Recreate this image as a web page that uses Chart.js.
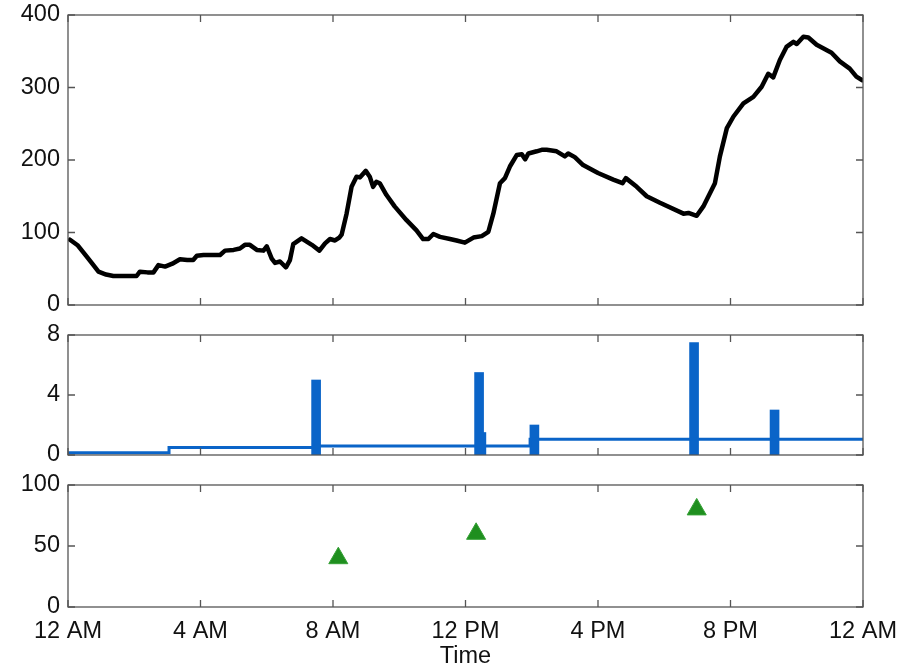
<!DOCTYPE html>
<html>
<head>
<meta charset="utf-8">
<script src="https://cdn.jsdelivr.net/npm/chart.js@4/dist/chart.umd.min.js"></script>
<style>
  body { margin:0; background:#fff; width:910px; height:668px; overflow:hidden; }
  canvas { position:absolute; left:0; }
</style>
</head>
<body>
<canvas id="glucose" width="910" height="320" style="top:0"></canvas>
<canvas id="insulin" width="910" height="150" style="top:320px"></canvas>
<canvas id="carbs" width="910" height="198" style="top:470px"></canvas>
<script>
// ---- data (hours since midnight) ----
const glucoseHours = [0.06,0.3,0.56,0.75,0.92,1.15,1.37,1.7,2.07,2.17,2.4,2.58,2.73,2.93,3.15,3.38,3.6,3.78,3.89,4.09,4.59,4.74,5.0,5.19,5.34,5.49,5.7,5.9,6.0,6.15,6.25,6.4,6.58,6.7,6.8,7.05,7.36,7.59,7.76,7.91,8.06,8.19,8.26,8.41,8.56,8.71,8.81,8.99,9.11,9.21,9.31,9.41,9.61,9.86,10.22,10.52,10.72,10.88,11.03,11.23,11.53,11.73,11.98,12.24,12.49,12.69,12.84,13.04,13.19,13.34,13.55,13.7,13.8,13.9,14.15,14.3,14.45,14.75,15.0,15.1,15.3,15.55,16.0,16.46,16.74,16.84,17.17,17.47,17.87,18.58,18.73,18.98,19.18,19.53,19.68,19.89,20.09,20.39,20.69,20.94,21.14,21.29,21.49,21.69,21.9,22.0,22.2,22.35,22.6,23.05,23.3,23.6,23.8,23.98];
const glucoseValues = [90,82,67,56,46,42,40,40,40,46,45,45,55,53,57,63,62,62,68,69,69,75,76,78,83,83,76,75,81,64,58,60,52,62,84,92,83,75,85,91,89,93,97,126,163,177,176,185,177,163,170,168,152,136,117,103,91,91,98,94,91,89,86,93,95,101,126,168,175,191,207,208,201,209,212,214,214,212,205,209,204,193,182,173,168,175,163,150,141,126,127,123,136,168,205,244,260,278,287,301,319,314,338,356,363,360,370,369,359,348,336,326,315,310];

const basalHours = [0, 3.05, 7.5, 13.95, 24];
const basalRates = [0.15, 0.5, 0.6, 1.05, 1.05];

const bolusHours = [7.49, 12.41, 14.08, 18.9, 21.33];
const bolusUnits = [5.0, 5.5, 2.0, 7.5, 3.0];
const extraBolusHours = [12.57];
const extraBolusUnits = [1.5];

const carbHours = [8.16, 12.32, 18.98];
const carbGrams = [40, 60, 80];

const xTickHours = [0, 4, 8, 12, 16, 20, 24];
const xTickLabels = ['12 AM','4 AM','8 AM','12 PM','4 PM','8 PM','12 AM'];

const pts = (xs, ys) => xs.map((x, i) => ({x, y: ys[i]}));

// ---- shared look ----
const FONT = {family:"'Liberation Sans', Arial, Helvetica, sans-serif", size:23.5};
const BLUE = '#0a64c8';

// box + inward ticks on all four sides, like the matlab style
const frameTicks = {
  id: 'frameTicks',
  afterDatasetsDraw(chart) {
    const {ctx, chartArea:a, scales} = chart;
    const L = 7;
    ctx.save();
    ctx.strokeStyle = '#555';
    ctx.lineWidth = 1.3;
    ctx.beginPath();
    xTickHours.forEach(h => {
      const px = scales.x.getPixelForValue(h);
      ctx.moveTo(px, a.top); ctx.lineTo(px, a.top + L);
      ctx.moveTo(px, a.bottom); ctx.lineTo(px, a.bottom - L);
    });
    scales.y.ticks.forEach(t => {
      const py = scales.y.getPixelForValue(t.value);
      ctx.moveTo(a.left, py); ctx.lineTo(a.left + L, py);
      ctx.moveTo(a.right, py); ctx.lineTo(a.right - L, py);
    });
    ctx.stroke();
    ctx.strokeRect(a.left, a.top, a.right - a.left, a.bottom - a.top);
    ctx.restore();
  }
};

function xAxis(show) {
  return {
    type:'linear', min:0, max:24, display: show, offset:false,
    grid:{display:false}, border:{display:false},
    ticks:{stepSize:4, padding:2, color:'#111', font:FONT, maxRotation:0,
      callback: v => xTickLabels[xTickHours.indexOf(v)]},
    title:{display:show, text:'Time', color:'#111', font:{...FONT, lineHeight:1}, padding:0},
    afterFit: s => { if (show) s.height = 61; }
  };
}
function yAxis(max, step) {
  return {
    min:0, max, grid:{display:false}, border:{display:false},
    ticks:{stepSize:step, padding:0, color:'#111', font:FONT},
    afterFit: s => { s.width = 68; }
  };
}
function baseOpts(max, step, showX, padBottom) {
  return {
    responsive:false, animation:false,
    layout:{padding:{top:15, right:47, bottom:padBottom, left:0}},
    plugins:{legend:{display:false}, tooltip:{enabled:false}},
    scales:{x:xAxis(showX), y:yAxis(max, step)}
  };
}

// ---- glucose ----
new Chart(document.getElementById('glucose'), {
  type:'line',
  data:{datasets:[{data:pts(glucoseHours, glucoseValues), borderColor:'#000', borderWidth:4.5,
    pointRadius:0, tension:0, borderJoinStyle:'round', borderCapStyle:'round'}]},
  options: baseOpts(400, 100, false, 15),
  plugins:[frameTicks]
});

// ---- insulin: basal line + bolus bars ----
const insOpts = baseOpts(8, 4, false, 15);
insOpts.scales.x2 = {type:'linear', min:0, max:24, display:false, offset:false};
new Chart(document.getElementById('insulin'), {
  type:'bar',
  data:{datasets:[
    {type:'line', data:pts(basalHours, basalRates), borderColor:BLUE, borderWidth:3, pointRadius:0, stepped:true},
    {data:pts(bolusHours, bolusUnits), backgroundColor:BLUE, barThickness:9, grouped:false},
    {data:pts(extraBolusHours, extraBolusUnits), backgroundColor:BLUE, barThickness:3, grouped:false, xAxisID:'x2'}
  ]},
  options: insOpts,
  plugins:[frameTicks]
});

// ---- carbs ----
new Chart(document.getElementById('carbs'), {
  type:'scatter',
  data:{datasets:[{data:pts(carbHours, carbGrams), pointStyle:'triangle', pointRadius:11,
    backgroundColor:'#1f8f1f', borderColor:'#35a035', borderWidth:1}]},
  options: baseOpts(100, 50, true, 0),
  plugins:[frameTicks]
});
</script>
</body>
</html>
